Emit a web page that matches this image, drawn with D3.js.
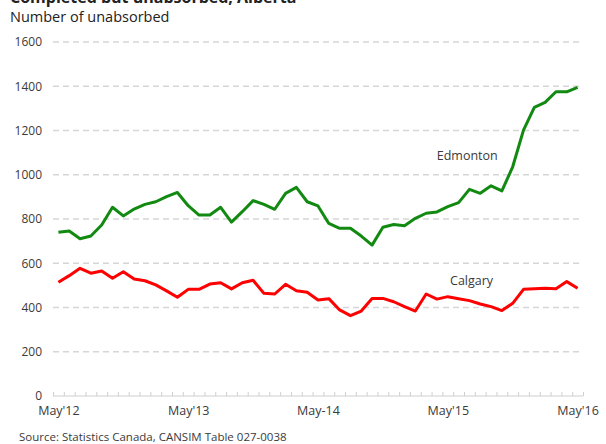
<!DOCTYPE html>
<html>
<head>
<meta charset="utf-8">
<script src="https://cdn.jsdelivr.net/npm/d3@7"></script>
<style>
  html, body { margin: 0; padding: 0; background: #fff; }
  svg { display: block; font-family: "Open Sans", "Noto Sans", sans-serif; }
</style>
</head>
<body>
<svg id="chart" width="606" height="444"></svg>
<script>
// Monthly counts of completed but unabsorbed units, May 2012 – May 2016
const months = d3.range(49); // 0 = May 2012 ... 48 = May 2016
const edmonton = [
  740, 746, 711, 723, 773, 853, 814, 845, 866, 878, 901, 920,
  860, 818, 818, 853, 786, 833, 883, 866, 844, 916, 943, 878,
  859, 780, 758, 758, 723, 682, 763, 775, 770, 803, 826, 832,
  856, 874, 934, 916, 950, 927, 1036, 1202, 1305, 1327, 1375, 1375,
  1395
];
const calgary = [
  514, 544, 577, 555, 565, 532, 562, 529, 521, 502, 475, 446,
  482, 482, 506, 512, 484, 512, 523, 464, 461, 505, 476, 469,
  434, 440, 389, 363, 384, 441, 441, 426, 404, 384, 461, 438,
  449, 440, 431, 416, 404, 386, 419, 482, 485, 487, 485, 517,
  487
];
const xTickIndex = [0, 12, 24, 36, 48];
const xTickLabels = ["May'12", "May'13", "May-14", "May'15", "May'16"];
const yTicks = [0, 200, 400, 600, 800, 1000, 1200, 1400, 1600];

const svg = d3.select("#chart");
const plotLeft = 53, plotRight = 583, plotTop = 42, plotBottom = 396;

// Category axis: each month occupies one slot, points sit at slot centres
const x = d3.scaleLinear().domain([-0.5, 48.5]).range([plotLeft, plotRight]);
const y = d3.scaleLinear().domain([0, 1600]).range([plotBottom, plotTop]);

const textColor = "#3a3a3a";

// Title (runs off the top edge) and subtitle
svg.append("text")
  .attr("x", 10).attr("y", 3)
  .attr("font-size", 16).attr("font-weight", "bold")
  .attr("fill", "#222")
  .text("Completed but unabsorbed, Alberta");
svg.append("text")
  .attr("x", 10).attr("y", 22)
  .attr("font-size", 14.5)
  .attr("fill", "#222")
  .text("Number of unabsorbed");

// Dashed horizontal gridlines
svg.append("g")
  .selectAll("line")
  .data(yTicks.filter(d => d > 0))
  .join("line")
  .attr("x1", plotLeft).attr("x2", plotRight - 3)
  .attr("y1", d => y(d)).attr("y2", d => y(d))
  .attr("stroke", "#d6d6d6")
  .attr("stroke-width", 1.6)
  .attr("stroke-dasharray", "6,4");

// Y axis labels
const yAxis = d3.axisLeft(y).tickValues(yTicks).tickFormat(d3.format("d"))
  .tickSize(0).tickPadding(11);
svg.append("g")
  .attr("transform", `translate(${plotLeft},0)`)
  .call(yAxis)
  .call(g => g.select(".domain").remove())
  .call(g => g.selectAll("text")
    .attr("font-size", 12).attr("fill", textColor)
    .attr("font-family", "Open Sans, sans-serif"));

// X axis: baseline with small upward ticks at month boundaries
const xBoundaries = d3.range(50).map(i => i - 0.5);
const xAxisTicks = d3.axisBottom(x).tickValues(xBoundaries).tickSize(-4).tickFormat("");
svg.append("g")
  .attr("transform", `translate(0,${plotBottom})`)
  .call(xAxisTicks)
  .call(g => g.select(".domain").attr("stroke", "#d0d0d0").attr("stroke-width", 1.2)
    .attr("d", `M${plotLeft},0H${plotRight}`))
  .call(g => g.selectAll(".tick line").attr("stroke", "#d0d0d0"));

// X axis labels at each May
const xAxisLabels = d3.axisBottom(x)
  .tickValues(xTickIndex)
  .tickFormat((d, i) => xTickLabels[i])
  .tickSize(0).tickPadding(10);
svg.append("g")
  .attr("transform", `translate(0,${plotBottom})`)
  .call(xAxisLabels)
  .call(g => g.select(".domain").remove())
  .call(g => g.selectAll("text")
    .attr("font-size", 12.5).attr("fill", textColor)
    .attr("font-family", "Open Sans, sans-serif"));

// Series lines
const line = d3.line()
  .x((d, i) => x(months[i]))
  .y(d => y(d));

svg.append("path")
  .datum(calgary)
  .attr("fill", "none")
  .attr("stroke", "#ff0000")
  .attr("stroke-width", 3)
  .attr("stroke-linejoin", "round")
  .attr("d", line);

svg.append("path")
  .datum(edmonton)
  .attr("fill", "none")
  .attr("stroke", "#128a12")
  .attr("stroke-width", 3)
  .attr("stroke-linejoin", "round")
  .attr("d", line);

// Series labels
svg.append("text")
  .attr("x", x(37.8)).attr("y", y(1068))
  .attr("text-anchor", "middle")
  .attr("font-size", 12.5).attr("fill", textColor)
  .text("Edmonton");
svg.append("text")
  .attr("x", x(38.2)).attr("y", y(502))
  .attr("text-anchor", "middle")
  .attr("font-size", 12.5).attr("fill", textColor)
  .text("Calgary");

// Source note
svg.append("text")
  .attr("x", 19).attr("y", 441)
  .attr("font-size", 11.5).attr("fill", textColor)
  .text("Source: Statistics Canada, CANSIM Table 027-0038");
</script>
</body>
</html>
